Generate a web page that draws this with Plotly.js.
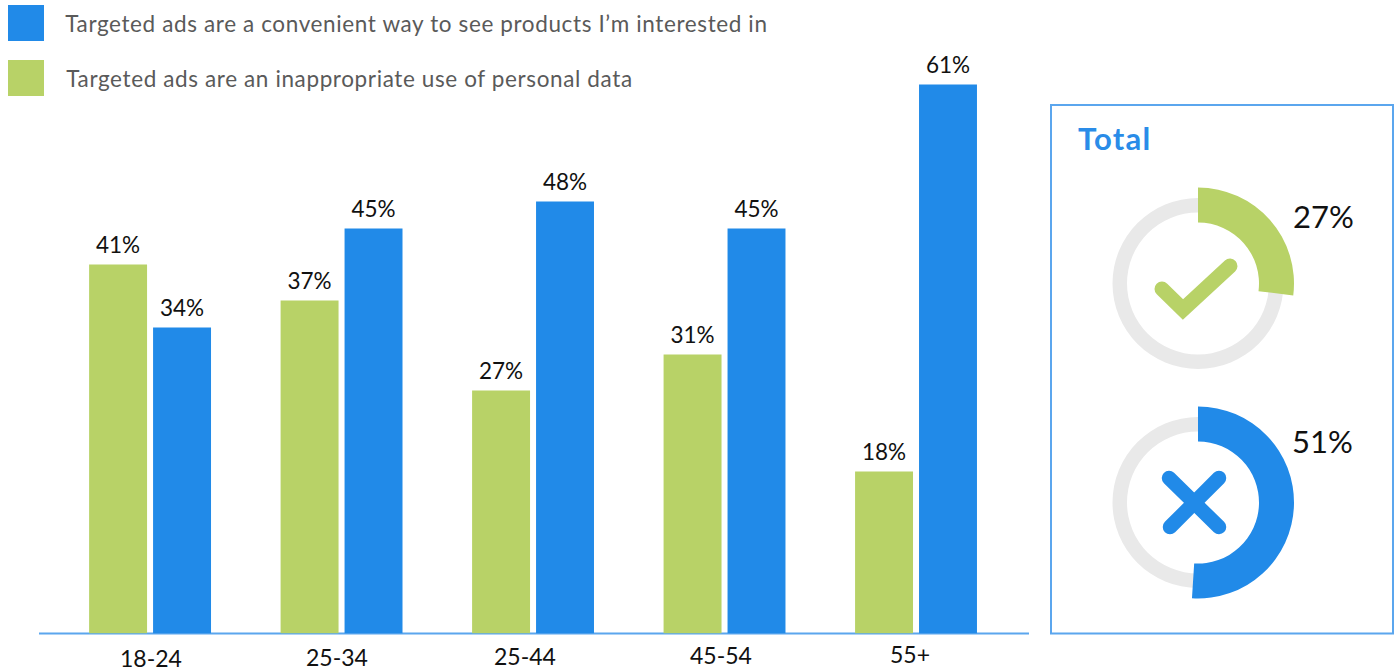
<!DOCTYPE html>
<html>
<head>
<meta charset="utf-8">
<script src="https://cdn.plot.ly/plotly-3.0.1.min.js"></script>
<style>
  html, body { margin: 0; padding: 0; background: #fff; }
  #chart { width: 1394px; height: 671px; }
  /* Icon strokes have rounded ends */
  .layer-above .shapelayer path { stroke-linecap: round; }
  /* Wider tracking on the two key lines and the panel heading */
  .annotation[data-index="0"] text, .annotation[data-index="1"] text { letter-spacing: 0.62px; }
  .annotation[data-index="2"] text { letter-spacing: 1.2px; }
</style>
</head>
<body>
<div id="chart"></div>
<script>
// Share of respondents by age group
const ageGroups = ['18-24', '25-34', '25-44', '45-54', '55+'];
const inappropriate = [41, 37, 27, 31, 18];
const convenient = [34, 45, 48, 45, 61];

// Totals across all ages
const totalAgree = 27;
const totalDisagree = 51;

const legendConvenient = 'Targeted ads are a convenient way to see products I’m interested in';
const legendInappropriate = 'Targeted ads are an inappropriate use of personal data';

const BLUE = '#218ae8';
const GREEN = '#b8d267';
const RING = '#e9e9e9';
const FRAME = '#5ba6ee';
const FONT = 'Lato, "Open Sans", sans-serif';

const W = 1394, H = 671;
const px = x => x / W;
const py = y => 1 - y / H;
const pct = v => v + '%';

// Square domain for a ring centred at (cx, cy) with outer radius r
const ringDomain = (cx, cy, r) => ({
  x: [px(cx - r), px(cx + r)],
  y: [py(cy + r), py(cy - r)]
});

function ring(cx, cy, r, hole, value, color) {
  return {
    type: 'pie',
    domain: ringDomain(cx, cy, r),
    values: [value, 100 - value],
    marker: { colors: [color, 'rgba(0,0,0,0)'], line: { width: 0 } },
    hole: hole,
    sort: false,
    direction: 'clockwise',
    rotation: 0,
    textinfo: 'none',
    hoverinfo: 'skip',
    showlegend: false
  };
}

function bars(name, values, color) {
  return {
    type: 'bar',
    name: name,
    x: ageGroups,
    y: values,
    marker: { color: color, line: { width: 0 } },
    text: values.map(pct),
    textposition: 'outside',
    textangle: 0,
    cliponaxis: false,
    constraintext: 'none',
    textfont: { family: FONT, size: 22.5, color: '#111' },
    showlegend: false
  };
}

const traces = [
  bars(legendInappropriate, inappropriate, GREEN),
  bars(legendConvenient, convenient, BLUE),
  ring(1198, 283.5, 85.5, 71 / 85.5, 100, RING),
  ring(1198, 283.5, 96, 61 / 96, totalAgree, GREEN),
  ring(1198, 502.5, 85.5, 71 / 85.5, 100, RING),
  ring(1198, 502.5, 96, 61 / 96, totalDisagree, BLUE)
];

// Polyline in page pixels, expressed as a paper-referenced path
const stroke = (points, color, width) => ({
  type: 'path',
  xref: 'paper',
  yref: 'paper',
  path: points.map((p, i) => (i ? 'L' : 'M') + px(p[0]) + ',' + py(p[1])).join(' '),
  line: { color: color, width: width },
  layer: 'above'
});

const box = (x0, y0, x1, y1, fill, line) => ({
  type: 'rect',
  xref: 'paper',
  yref: 'paper',
  x0: px(x0), x1: px(x1),
  y0: py(y1), y1: py(y0),
  fillcolor: fill,
  line: line,
  layer: 'below'
});

const baseline = {
  type: 'line',
  xref: 'paper',
  yref: 'paper',
  x0: px(39), x1: px(1029),
  y0: py(633.5), y1: py(633.5),
  line: { color: FRAME, width: 2 },
  layer: 'below'
};

const shapes = [
  box(8, 5, 44, 41, BLUE, { width: 0 }),
  box(8, 60, 44, 96, GREEN, { width: 0 }),
  box(1051, 105, 1393, 633.5, 'rgba(0,0,0,0)', { color: FRAME, width: 2 }),
  baseline,
  stroke([[1162, 289], [1183, 309.5], [1230, 266]], GREEN, 15),
  stroke([[1169, 478], [1219, 527]], BLUE, 14.5),
  stroke([[1219, 478], [1170, 527]], BLUE, 14.5)
];

const pageText = (x, y, text, size, color, bold) => ({
  xref: 'paper',
  yref: 'paper',
  x: px(x),
  y: py(y),
  xanchor: 'left',
  yanchor: 'middle',
  showarrow: false,
  text: bold ? '<b>' + text + '</b>' : text,
  font: { family: FONT, size: size, color: color }
});

// Age labels sit on a slightly tilted line under the axis
const labelDx = [1, -5, -8.5, -4, -6];
const labelY = [657.5, 656.5, 655.5, 654.5, 653.5];

const annotations = [
  pageText(84, 23, legendConvenient, 22.5, '#5a5a5a'),
  pageText(80.5, 79, legendInappropriate, 22.5, '#5a5a5a'),
  pageText(1079, 138, 'Total', 31, '#2a8ce8', true),
  pageText(1291, 216, pct(totalAgree), 31, '#111'),
  pageText(1290, 441, pct(totalDisagree), 31, '#111')
].concat(ageGroups.map((g, i) => ({
  xref: 'x',
  yref: 'paper',
  x: g,
  xshift: labelDx[i],
  y: py(labelY[i]),
  yanchor: 'middle',
  showarrow: false,
  text: g,
  font: { family: FONT, size: 23, color: '#111' }
})));

const layout = {
  width: W,
  height: H,
  margin: { l: 0, r: 0, t: 0, b: 0 },
  paper_bgcolor: '#fff',
  plot_bgcolor: 'rgba(0,0,0,0)',
  barmode: 'group',
  bargap: 0.332,
  bargroupgap: 0.094,
  xaxis: {
    domain: [px(39), px(1029)],
    type: 'category',
    range: [-0.58, 4.59],
    showgrid: false,
    zeroline: false,
    showline: false,
    ticks: '',
    showticklabels: false,
    fixedrange: true
  },
  yaxis: {
    domain: [py(633.5), 1],
    range: [0, 633.5 / 9],
    visible: false,
    fixedrange: true
  },
  shapes: shapes,
  annotations: annotations
};

Plotly.newPlot('chart', traces, layout, { displayModeBar: false, responsive: false }).then(() => {
  // Value labels float a little higher above the bars
  document.querySelectorAll('.barlayer .bars text').forEach(label => {
    label.setAttribute('transform', 'translate(0,-4) ' + (label.getAttribute('transform') || ''));
  });
});
</script>
</body>
</html>
